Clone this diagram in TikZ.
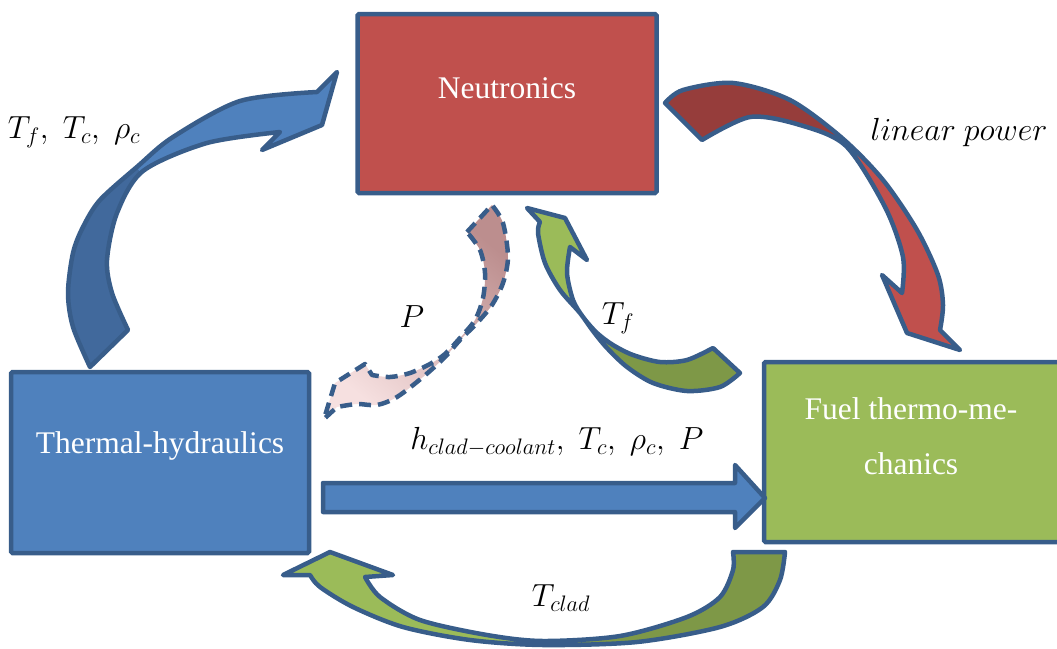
\RequirePackage{fix-cm}
\documentclass[tikz,border=0pt]{standalone}
\usepackage{fontspec}
\setmainfont{Liberation Serif}
\definecolor{bd}{HTML}{385D8A}
\definecolor{rd}{HTML}{C0504D}
\definecolor{rdD}{HTML}{963D3B}
\definecolor{bl}{HTML}{4F81BD}
\definecolor{blD}{HTML}{41699C}
\definecolor{gr}{HTML}{9BBB59}
\definecolor{grD}{HTML}{7E9847}
\definecolor{pkD}{HTML}{BC8E8E}
\definecolor{pkM}{HTML}{EBB0AE}
\definecolor{pkL}{HTML}{F6E0E0}
\tikzset{
  boxsty/.style={draw=bd, line width=4.5pt, rounded corners=1.5pt, inner sep=0pt},
  boxtext/.style={text=white, font=\rmfamily\fontsize{31.5}{55}\selectfont, align=center, inner sep=0pt},
  outl/.style={draw=bd, line width=4.5pt, line join=round},
  dashoutl/.style={draw=bd, line width=4.5pt, line join=round, dash pattern=on 12pt off 7pt},
  lbl/.style={font=\fontsize{32}{38}\selectfont, inner sep=0pt},
}
\newcommand\shpBlue[1]{\path[#1] (128,330) -- plot[smooth] coordinates {(90,367) (73,327) (68,293) (73,253) (83,227) (100,200) (138,166) (173,137) (240,101) (317,92)} -- (337,72) -- (322,125) -- (262,150) -- plot[smooth] coordinates {(280,132) (207,143) (143,171) (117,213) (107,260) (112,293) (128,330)} -- cycle;}
\newcommand\shpRed[1]{\path[#1] (702,140) -- plot[smooth] coordinates {(665,103) (683,90) (733,83) (790,100) (842,138) (883,180) (917,230) (938,275) (943,305) (940,330)} -- (960,350) -- (907,333) -- (882,275) -- plot[smooth] coordinates {(902,293) (903,257) (885,207) (846,146) (800,125) (750,117) (702,140)} -- cycle;}
\newcommand\shpGs[1]{\path[#1] (527,208) -- (565,218) -- (587,260) -- plot[smooth] coordinates {(570,247) (567,273) (573,300) (583,317) (597,333) (613,345) (633,355) (660,362) (687,360) (713,348)} -- plot[smooth] coordinates {(740,373) (720,387) (687,391) (653,383) (627,367) (607,348) (593,331) (580,313) (560,290) (545,263) (538,233) (540,222)} -- cycle;}
\newcommand\shpGb[1]{\path[#1] (330,552) -- (393,575) -- plot[smooth] coordinates {(365,577) (380,597) (420,620) (487,635) (543,641) (620,636) (687,617) (720,597) (733,570) (733,552)} -- plot[smooth] coordinates {(785,552) (780,580) (763,607) (720,627) (637,642) (543,645) (470,640) (403,627) (353,607) (320,587) (310,575)} -- (283,575) -- cycle;}
\newcommand\shpPk[1]{\path[#1] (467,232) -- plot[smooth] coordinates {(492,205) (503,223) (508,257) (503,283) (492,305) (477,323) (460,340) (445,357) (423,377) (397,397) (377,405) (357,404) (337,407)} -- (324,419) -- (335,383) -- (365,364) -- plot[smooth] coordinates {(372,375) (390,377) (410,373) (430,364) (445,354) (460,338) (475,320) (483,298) (485,273) (480,250) (467,232)} -- cycle;}
\begin{document}
\begin{tikzpicture}[x=1pt,y=-1pt]
\useasboundingbox (0,0) rectangle (1057,648);
% boxes
\node[boxsty, fill=rd, minimum width=299pt, minimum height=179pt] (neu) at (507,103.5) {};
\node[boxsty, fill=bl, minimum width=298pt, minimum height=181pt] (th) at (160,462.5) {};
\node[boxsty, fill=gr, minimum width=300pt, minimum height=180pt] (fu) at (914,452) {};
\node[boxtext] (neuT) at (507,88) {Neutronics};
\node[boxtext] (thT) at (160,446) {Thermal-hydraulics};
\node[boxtext] (fuT) at (911,436) {Fuel thermo-me-\\chanics};
% blue curved arrow (TH -> Neutronics)
\shpBlue{fill=bl}
\begin{scope}
  \clip (60,72) -- (220,272) -- (220,400) -- (0,400) -- (0,72) -- cycle;
  \shpBlue{fill=blD}
\end{scope}
\shpBlue{outl}
% red curved arrow (Neutronics -> Fuel)
\shpRed{fill=rd}
\begin{scope}
  \clip (923,40) -- (763,240) -- (600,240) -- (600,0) -- (923,0) -- cycle;
  \shpRed{fill=rdD}
\end{scope}
\shpRed{outl}
% small green arrow (Fuel -> Neutronics)
\shpGs{fill=gr}
\begin{scope}
  \clip (697,233) -- (800,233) -- (800,433) -- (497,433) -- cycle;
  \shpGs{fill=grD}
\end{scope}
\shpGs{outl}
% bottom green arrow (Fuel -> TH)
\shpGb{fill=gr}
\begin{scope}
  \clip (543,540) rectangle (800,660);
  \shpGb{fill=grD}
\end{scope}
\shpGb{outl}
% pink dashed arrow (Neutronics -> TH)
\shpPk{shade, top color=pkD, middle color=pkM, bottom color=pkL, shading angle=-40}
\shpPk{dashoutl}
% straight blue arrow (TH -> Fuel)
\draw[outl, fill=bl] (323,483) -- (735,483) -- (735,465) -- (765,498) -- (735,528) -- (735,512) -- (323,512) -- cycle;
% labels
\node[lbl] (l1) at (74,132) {$T_f,\;T_c,\;\rho_c$};
\node[lbl] (l2) at (959,132) {$linear\ power$};
\node[lbl] (l3) at (412,317) {$P$};
\node[lbl] (l4) at (618,318) {$T_f$};
\node[lbl] (l5) at (557,442) {$h_{clad-coolant},\;T_c,\;\rho_c,\;P$};
\node[lbl] (l6) at (561,598) {$T_{clad}$};
\end{tikzpicture}
\end{document}
